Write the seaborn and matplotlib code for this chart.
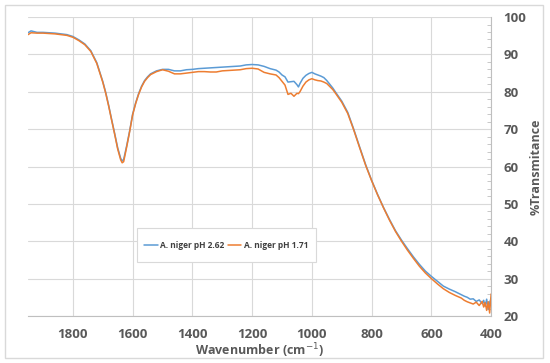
import matplotlib
matplotlib.use("Agg")
import matplotlib.pyplot as plt
import matplotlib.patches as patches
from matplotlib.ticker import MultipleLocator
import pandas as pd
import seaborn as sns

# wavenumbers (cm-1) and %T
wavenumber = [1950, 1940, 1920, 1900, 1880, 1860, 1840, 1820, 1800, 1780, 1760, 1740,
              1720, 1700, 1690, 1680, 1670, 1660, 1650, 1640, 1635, 1630, 1620, 1610,
              1600, 1590, 1580, 1570, 1560, 1550, 1540, 1520, 1500, 1480, 1460, 1440,
              1420, 1400, 1380, 1360, 1340, 1320, 1300, 1280, 1260, 1240, 1220, 1200,
              1180, 1160, 1140, 1120, 1110, 1100, 1090, 1080, 1070, 1060, 1050, 1045,
              1040, 1030, 1020, 1010, 1000, 990, 980, 970, 960, 950, 940, 930, 920,
              900, 880, 860, 840, 820, 800, 780, 760, 740, 720, 700, 680, 660, 640,
              620, 600, 580, 560, 540, 520, 500, 490, 480, 470, 460, 450, 440, 430,
              425, 420, 415, 410, 405, 400]

ph_262 = [95.8, 96.3, 95.9, 95.9, 95.8, 95.7, 95.5, 95.3, 94.8, 93.9, 92.8, 91.0,
          87.8, 82.8, 79.8, 76.3, 72.5, 68.8, 65.0, 62.2, 61.5, 61.9, 65.5, 69.5,
          74.0, 77.0, 79.5, 81.5, 83.0, 84.0, 84.8, 85.6, 86.0, 86.0, 85.6, 85.6,
          85.9, 86.0, 86.2, 86.3, 86.4, 86.5, 86.6, 86.7, 86.8, 86.9, 87.2, 87.3,
          87.2, 86.8, 86.2, 85.8, 85.3, 84.5, 84.0, 82.6, 82.7, 82.8, 81.9, 81.3,
          82.2, 83.6, 84.4, 84.9, 85.2, 84.8, 84.5, 84.2, 83.8, 83.0, 82.0, 81.0, 79.8,
          77.5, 74.5, 70.0, 65.2, 60.5, 56.3, 52.5, 49.0, 45.8, 42.8, 40.3, 38.0, 35.8, 33.8,
          32.0, 30.6, 29.3, 28.0, 27.2, 26.5, 25.7, 25.3, 25.0, 24.5, 24.6, 23.9, 24.3, 23.3,
          24.2, 22.6, 24.5, 21.8, 23.5, 24.8]

ph_171 = [95.3, 95.8, 95.7, 95.7, 95.6, 95.5, 95.3, 95.1, 94.6, 93.7, 92.6, 90.8,
          87.6, 82.6, 79.6, 76.1, 72.3, 68.6, 64.7, 61.8, 61.0, 61.3, 65.2, 69.3,
          73.8, 76.8, 79.3, 81.3, 82.8, 83.8, 84.6, 85.4, 85.9, 85.5, 84.8, 84.8,
          85.0, 85.2, 85.4, 85.4, 85.3, 85.3, 85.6, 85.7, 85.8, 85.9, 86.2, 86.3,
          86.1, 85.2, 84.8, 84.5, 83.8, 82.8, 81.8, 79.3, 79.6, 78.8, 79.6, 79.5,
          80.0, 81.5, 82.6, 83.2, 83.5, 83.2, 83.0, 82.9, 82.6, 82.2, 81.4, 80.6, 79.5,
          77.2, 74.2, 69.8, 65.0, 60.3, 56.2, 52.4, 48.9, 45.6, 42.6, 40.0, 37.6, 35.4, 33.3,
          31.5, 30.0, 28.6, 27.3, 26.3, 25.5, 24.8, 24.2, 23.8, 23.5, 23.2, 23.7, 22.8, 23.9,
          22.4, 23.6, 21.5, 23.8, 20.8, 25.9]

labels = ["A. niger pH 2.62", "A. niger pH 1.71"]
colors = ["#5B9BD5", "#ED7D31"]

df = pd.concat([
    pd.DataFrame({"wn": wavenumber, "T": ph_262, "sample": labels[0]}),
    pd.DataFrame({"wn": wavenumber, "T": ph_171, "sample": labels[1]}),
])

sns.set_style("white")
plt.rcParams["font.family"] = ["Open Sans", "DejaVu Sans"]

fig = plt.figure(figsize=(5.5, 3.63), dpi=100)
ax = fig.add_axes([0.051, 0.1295, 0.842, 0.8235])

sns.lineplot(data=df, x="wn", y="T", hue="sample", palette=colors,
             linewidth=1.1, sort=False, estimator=None, ax=ax)

ax.set_xlim(1950, 400)
ax.set_ylim(20, 100)
ax.xaxis.set_major_locator(MultipleLocator(200))
ax.xaxis.set_minor_locator(MultipleLocator(40))
ax.yaxis.set_major_locator(MultipleLocator(10))
ax.yaxis.set_minor_locator(MultipleLocator(2))
ax.yaxis.tick_right()
ax.yaxis.set_label_position("right")

ax.grid(True, which="major", color="#d9d9d9", linewidth=0.8)
for s in ["left", "top"]:
    ax.spines[s].set_visible(False)
for s in ["bottom", "right"]:
    ax.spines[s].set_color("#bfbfbf")
    ax.spines[s].set_linewidth(0.8)

ax.tick_params(axis="both", which="major", length=0, labelsize=9.5,
               labelcolor="#595959")
ax.tick_params(axis="x", which="major", pad=9)
ax.tick_params(axis="y", which="major", pad=9)
ax.tick_params(axis="x", which="minor", length=3, color="#bfbfbf", direction="in")
ax.tick_params(axis="y", which="minor", length=3, color="#bfbfbf", direction="in")
for t in ax.get_xticklabels() + ax.get_yticklabels():
    t.set_fontweight("bold")

ax.set_xlabel("Wavenumber (cm$^{-1}$)", fontsize=9, fontweight="bold",
              color="#595959", labelpad=0)
ax.set_ylabel("%Transmitance", fontsize=9, fontweight="bold",
              color="#595959", labelpad=2, rotation=90)

# legend without its own frame; the box is drawn separately (taller than wide padding)
leg = ax.legend(loc="center", bbox_to_anchor=(0.428, 0.237), ncol=2,
                frameon=False, fontsize=6.0, handlelength=1.6,
                columnspacing=0.4, handletextpad=0.3, borderpad=0.3)
for t in leg.get_texts():
    t.set_color("#404040")
    t.set_fontweight("bold")
ax.add_patch(patches.Rectangle((0.2354, 0.1806), 0.3866, 0.1137,
                               transform=ax.transAxes, facecolor="white",
                               edgecolor="#d9d9d9", linewidth=0.8, zorder=4))
leg.set_zorder(5)

fig.patches.append(patches.Rectangle((5 / 550, 5 / 363), 538 / 550, 353 / 363,
                                     transform=fig.transFigure, fill=False,
                                     edgecolor="#d9d9d9", linewidth=1.0))

fig.savefig("out.png", dpi=100)
